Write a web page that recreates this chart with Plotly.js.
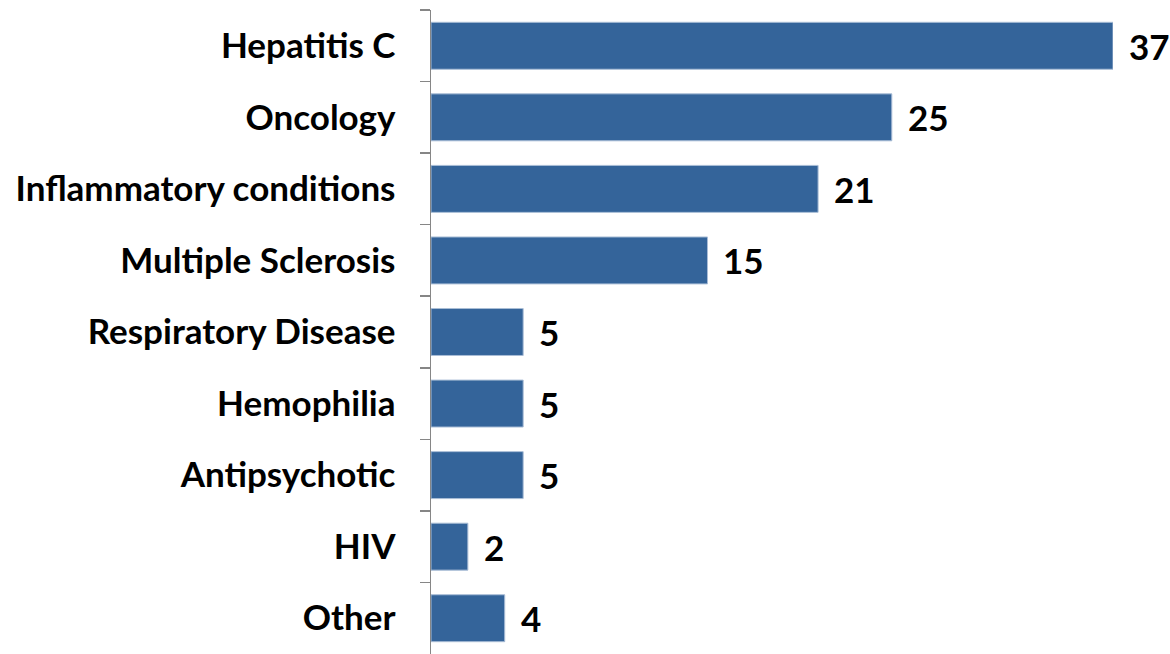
<!DOCTYPE html>
<html>
<head>
<meta charset="utf-8">
<script src="https://cdn.plot.ly/plotly-3.0.1.min.js"></script>
<style>html,body{margin:0;padding:0;background:#fff;}#chart{width:1170px;height:654px;}</style>
</head>
<body>
<div id="chart"></div>
<script>
const categories = ["Hepatitis C", "Oncology", "Inflammatory conditions", "Multiple Sclerosis", "Respiratory Disease", "Hemophilia", "Antipsychotic", "HIV", "Other"];
const values = [37, 25, 21, 15, 5, 5, 5, 2, 4];

const FONT = {family: "Lato, 'Open Sans', sans-serif", size: 35, color: "#000000", weight: 700};

const trace = {
  type: "bar",
  orientation: "h",
  x: values,
  y: categories,
  marker: {color: "#34649a", line: {color: "#a9bdd6", width: 1}},
  hoverinfo: "skip"
};

const annotations = categories.map((c, i) => ({
  x: values[i], y: c, xref: "x", yref: "y",
  text: String(values[i]), showarrow: false,
  xanchor: "left", yanchor: "middle", xshift: 14,
  font: FONT
}));

const layout = {
  width: 1170, height: 654,
  margin: {l: 431, r: 57, t: 10, b: 0, pad: 0},
  paper_bgcolor: "#ffffff", plot_bgcolor: "#ffffff",
  showlegend: false,
  bargap: 0.344,
  xaxis: {range: [0, 37], visible: false, fixedrange: true},
  yaxis: {
    type: "category",
    autorange: false,
    range: [8.5, -0.5],
    showline: true, linecolor: "#868686", linewidth: 1.5,
    ticks: "outside", tickson: "boundaries", ticklen: 10, tickcolor: "#868686", tickwidth: 1.5,
    ticklabelstandoff: 27,
    showgrid: false, zeroline: false,
    tickfont: FONT
  },
  annotations: annotations
};

Plotly.newPlot("chart", [trace], layout, {displayModeBar: false, staticPlot: true});
</script>
</body>
</html>
